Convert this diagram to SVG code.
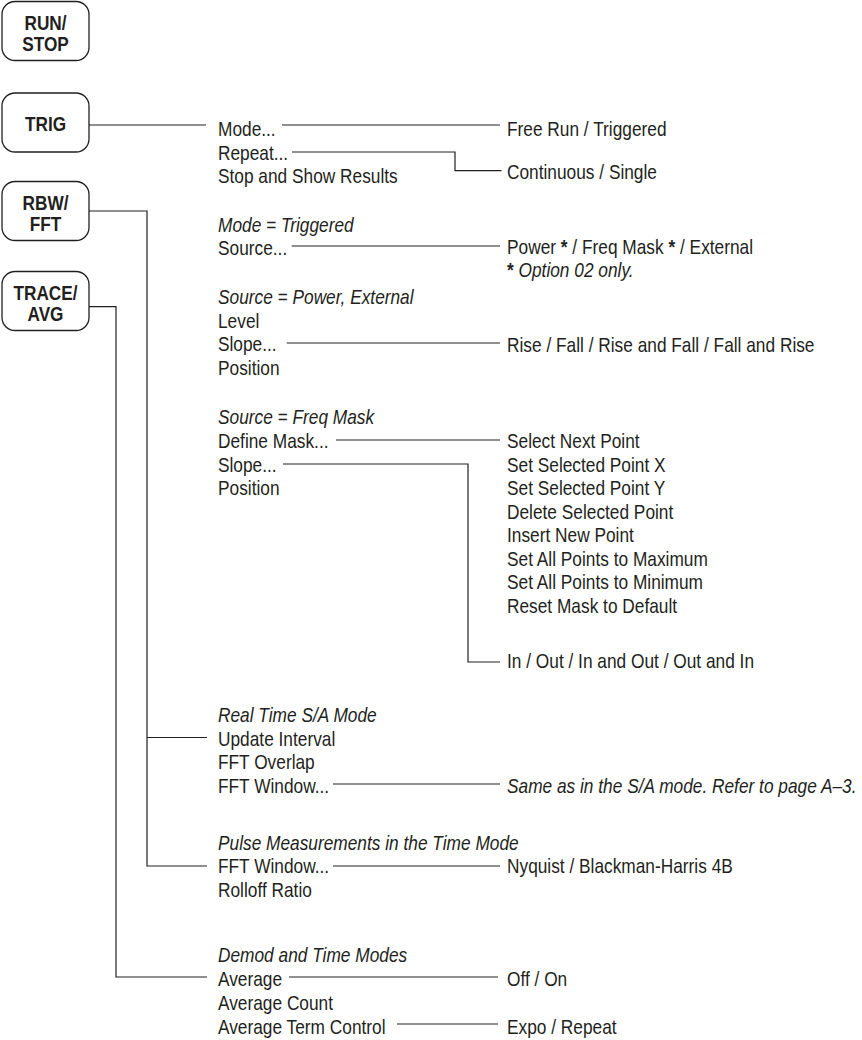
<svg xmlns="http://www.w3.org/2000/svg" width="862" height="1040" viewBox="0 0 862 1040">
<style>
text{font-family:"Liberation Sans",Arial,Helvetica,sans-serif;fill:#231f20}
.t{font-size:20px}
.i{font-size:20px;font-style:italic}
.b{font-size:21px;font-weight:bold;text-anchor:middle}
.box{fill:#fff;stroke:#231f20;stroke-width:1.3}
.ln{fill:none;stroke:#231f20;stroke-width:1.2}
</style>
<rect width="862" height="1040" fill="#fff"/>
<g id="connectors">
<path class="ln" d="M89 125H206"/>
<path class="ln" d="M282 125H500"/>
<path class="ln" d="M292 152H455V170.7H501.5"/>
<path class="ln" d="M291.7 246H500"/>
<path class="ln" d="M286.7 343H500"/>
<path class="ln" d="M336 440H500"/>
<path class="ln" d="M283 464H468V662H500"/>
<path class="ln" d="M89 211H147V866H207"/>
<path class="ln" d="M147 737.5H207"/>
<path class="ln" d="M333 784H500"/>
<path class="ln" d="M333 866H500"/>
<path class="ln" d="M89 306.7H116V977H207"/>
<path class="ln" d="M289 977H498"/>
<path class="ln" d="M397 1024H498"/>
</g>
<g id="btn-runstop">
<rect class="box" x="2" y="1.5" width="87" height="59" rx="13"/>
<text class="b" transform="translate(45.5 29.5) scale(0.82 1)">RUN/</text>
<text class="b" transform="translate(45.5 50.5) scale(0.82 1)">STOP</text>
</g>
<g id="btn-trig">
<rect class="box" x="2" y="93" width="87" height="59" rx="13"/>
<text class="b" transform="translate(45.5 130.5) scale(0.82 1)">TRIG</text>
</g>
<g id="btn-rbwfft">
<rect class="box" x="2" y="181.5" width="87" height="59" rx="13"/>
<text class="b" transform="translate(45.5 209.5) scale(0.82 1)">RBW/</text>
<text class="b" transform="translate(45.5 230.5) scale(0.82 1)">FFT</text>
</g>
<g id="btn-traceavg">
<rect class="box" x="2" y="271.5" width="87" height="59" rx="13"/>
<text class="b" transform="translate(45.5 299.5) scale(0.82 1)">TRACE/</text>
<text class="b" transform="translate(45.5 320.5) scale(0.82 1)">AVG</text>
</g>
<g id="trig-menu">
<text class="t" transform="translate(218 136) scale(0.865 1)">Mode...</text>
<text class="t" transform="translate(218 159.5) scale(0.865 1)">Repeat...</text>
<text class="t" transform="translate(218 183) scale(0.865 1)">Stop and Show Results</text>
</g>
<g id="trig-mode-opts"><text class="t" transform="translate(507 136) scale(0.865 1)">Free Run / Triggered</text></g>
<g id="trig-repeat-opts"><text class="t" transform="translate(507 178.5) scale(0.865 1)">Continuous / Single</text></g>
<g id="trig-triggered">
<text class="i" transform="translate(218 231.5) scale(0.865 1)">Mode = Triggered</text>
<text class="t" transform="translate(218 255) scale(0.865 1)">Source...</text>
</g>
<g id="trig-source-opts">
<text class="t" transform="translate(507 254) scale(0.865 1)">Power <tspan font-weight="bold">*</tspan> / Freq Mask <tspan font-weight="bold">*</tspan> / External</text>
<text class="t" transform="translate(507 277) scale(0.865 1)"><tspan font-weight="bold">*</tspan> <tspan font-style="italic">Option 02 only.</tspan></text>
</g>
<g id="trig-power-ext">
<text class="i" transform="translate(218 304) scale(0.865 1)">Source = Power, External</text>
<text class="t" transform="translate(218 327.5) scale(0.865 1)">Level</text>
<text class="t" transform="translate(218 351) scale(0.865 1)">Slope...</text>
<text class="t" transform="translate(218 374.5) scale(0.865 1)">Position</text>
</g>
<g id="trig-slope-opts"><text class="t" transform="translate(507 352) scale(0.865 1)">Rise / Fall / Rise and Fall / Fall and Rise</text></g>
<g id="trig-freqmask">
<text class="i" transform="translate(218 424) scale(0.865 1)">Source = Freq Mask</text>
<text class="t" transform="translate(218 448) scale(0.865 1)">Define Mask...</text>
<text class="t" transform="translate(218 471.5) scale(0.865 1)">Slope...</text>
<text class="t" transform="translate(218 495) scale(0.865 1)">Position</text>
</g>
<g id="mask-opts">
<text class="t" transform="translate(507 448) scale(0.865 1)">Select Next Point</text>
<text class="t" transform="translate(507 471.5) scale(0.865 1)">Set Selected Point X</text>
<text class="t" transform="translate(507 495) scale(0.865 1)">Set Selected Point Y</text>
<text class="t" transform="translate(507 518.5) scale(0.865 1)">Delete Selected Point</text>
<text class="t" transform="translate(507 542) scale(0.865 1)">Insert New Point</text>
<text class="t" transform="translate(507 565.5) scale(0.865 1)">Set All Points to Maximum</text>
<text class="t" transform="translate(507 589) scale(0.865 1)">Set All Points to Minimum</text>
<text class="t" transform="translate(507 612.5) scale(0.865 1)">Reset Mask to Default</text>
</g>
<g id="mask-slope-opts"><text class="t" transform="translate(507 668) scale(0.865 1)">In / Out / In and Out / Out and In</text></g>
<g id="rbw-realtime">
<text class="i" transform="translate(218 722) scale(0.865 1)">Real Time S/A Mode</text>
<text class="t" transform="translate(218 745.5) scale(0.865 1)">Update Interval</text>
<text class="t" transform="translate(218 769) scale(0.865 1)">FFT Overlap</text>
<text class="t" transform="translate(218 792.5) scale(0.865 1)">FFT Window...</text>
</g>
<g id="rbw-realtime-window"><text class="i" transform="translate(507 792.5) scale(0.865 1)">Same as in the S/A mode. Refer to page A–3.</text></g>
<g id="rbw-pulse">
<text class="i" transform="translate(218 849.5) scale(0.865 1)">Pulse Measurements in the Time Mode</text>
<text class="t" transform="translate(218 873) scale(0.865 1)">FFT Window...</text>
<text class="t" transform="translate(218 896.5) scale(0.865 1)">Rolloff Ratio</text>
</g>
<g id="rbw-pulse-window"><text class="t" transform="translate(507 873) scale(0.865 1)">Nyquist / Blackman-Harris 4B</text></g>
<g id="trace-demod">
<text class="i" transform="translate(218 962) scale(0.865 1)">Demod and Time Modes</text>
<text class="t" transform="translate(218 986) scale(0.865 1)">Average</text>
<text class="t" transform="translate(218 1010) scale(0.865 1)">Average Count</text>
<text class="t" transform="translate(218 1033.5) scale(0.865 1)">Average Term Control</text>
</g>
<g id="trace-average-opts"><text class="t" transform="translate(507 986) scale(0.865 1)">Off / On</text></g>
<g id="trace-term-opts"><text class="t" transform="translate(507 1033.5) scale(0.865 1)">Expo / Repeat</text></g>
</svg>
